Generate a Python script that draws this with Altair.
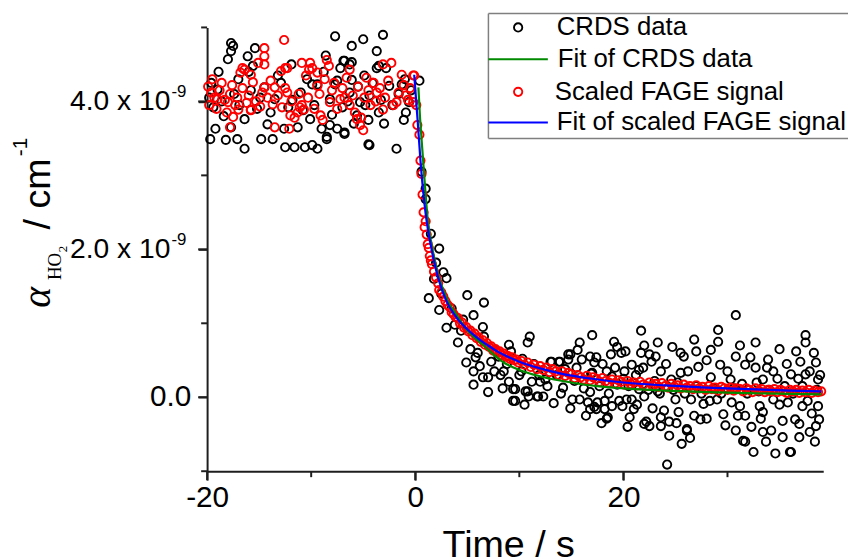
import altair as alt
import pandas as pd

# ---------------- data (time in s, alpha in units of 1e-9 cm^-1) ----------------
crds_pre = [
    (-17.7, 4.79), (-17.5, 4.75), (-17.7, 4.68), (-18.0, 4.57), (-15.4, 4.72), (-7.7, 4.88), (-5.0, 4.84), (-3.1, 4.90), (-6.1, 4.75), (-3.7, 4.68),
    (-6.8, 4.55), (-6.1, 4.53), (-3.7, 4.45), (-16.1, 4.61), (-19.7, 3.49), (-18.2, 3.48), (-17.1, 3.49), (-16.4, 3.36), (-14.8, 3.49), (-13.7, 3.49),
    (-12.5, 3.38), (-11.6, 3.38), (-10.6, 3.38), (-9.9, 3.41), (-9.4, 3.36), (-8.5, 3.49), (-6.8, 3.56), (-4.4, 3.41), (-1.8, 3.36), (-19.2, 3.63),
    (-17.7, 3.65), (-16.4, 3.76), (-14.2, 3.69), (-12.6, 3.63), (-11.3, 3.65), (-10.1, 3.76), (-9.0, 3.63), (-8.2, 3.68), (-7.5, 3.63), (-5.6, 3.81),
    (-4.5, 3.75), (-3.5, 3.85), (-0.9, 3.85), (-19.6, 4.25), (-19.0, 4.16), (-17.0, 4.30), (-15.8, 4.15), (-14.5, 4.19), (-13.5, 4.03), (-12.9, 4.25),
    (-11.0, 4.12), (-9.4, 4.23), (-8.2, 4.03), (-7.5, 4.28), (-6.3, 4.12), (-5.3, 3.99), (-4.4, 4.08), (-2.5, 4.21), (-1.3, 4.23), (-0.6, 3.99),
    (-19.8, 4.05), (-19.4, 3.92), (-18.6, 4.00), (-18.4, 3.80), (-17.4, 4.10), (-16.9, 3.95), (-16.0, 4.40), (-15.2, 3.90), (-14.9, 4.05), (-13.9, 3.85),
    (-13.2, 4.35), (-12.2, 3.92), (-11.8, 4.02), (-10.8, 3.88), (-10.4, 4.30), (-9.7, 3.95), (-8.8, 4.40), (-8.0, 3.82), (-7.2, 4.45), (-7.0, 3.92),
    (-6.5, 4.00), (-5.9, 3.70), (-5.5, 4.20), (-4.8, 3.95), (-4.1, 4.25), (-3.3, 4.02), (-3.0, 3.70), (-2.2, 3.95), (-1.6, 4.10), (-1.0, 4.30),
    (-0.4, 4.15), (-2.8, 4.45), (-4.9, 4.35), (-8.6, 4.62), (-11.9, 4.50), (-15.6, 4.48), (-18.9, 4.40), (-6.9, 4.55), (-6.3, 4.50), (-3.5, 4.48),
    (-6.1, 4.29), (-7.7, 4.23), (-9.9, 4.23), (-8.5, 3.52), (-6.8, 3.58), (-4.5, 3.42), (-1.1, 3.75),
]

crds_post = [
    (0.4, 4.28), (0.6, 3.05), (1.0, 2.82), (1.0, 2.68), (1.5, 2.21), (2.3, 2.01), (2.0, 1.82), (2.7, 1.69), (3.0, 1.61), (1.3, 1.34),
    (2.3, 1.18), (5.0, 1.38), (6.6, 1.28), (5.6, 1.11), (3.0, 0.94), (4.1, 0.74), (6.5, 0.95), (6.6, 0.82), (4.9, 0.47), (5.8, 0.54),
    (5.6, 0.35), (6.5, 0.27), (7.0, 0.27), (5.6, 0.17), (7.0, 0.07), (8.0, 0.55), (9.0, 0.71), (9.0, 0.21), (9.6, 0.11), (9.6, -0.05),
    (11.0, 0.82), (10.8, 0.74), (11.2, 0.21), (10.8, 0.08), (1.8, 1.60), (2.5, 1.40), (3.5, 1.20), (3.8, 0.98), (4.4, 0.90), (4.6, 1.05),
    (5.3, 0.65), (6.0, 0.60), (6.2, 0.42), (7.3, 0.48), (7.6, 0.35), (8.2, 0.30), (8.4, 0.12), (8.8, 0.45), (9.2, 0.62), (10.0, 0.30),
    (10.3, 0.52), (7.8, 0.62), (8.5, 0.35), (9.4, 0.11), (9.4, -0.05), (10.6, 0.08), (11.7, 0.01), (12.3, 0.01), (13.1, 0.48), (13.9, 0.48),
    (14.7, 0.58), (15.8, 0.74), (17.0, 0.84), (15.1, -0.03), (16.8, -0.16), (18.4, -0.29), (17.5, -0.07), (19.1, 0.75), (21.7, 0.90), (23.3, 0.74),
    (20.6, -0.27), (22.0, -0.36), (24.4, -0.52), (24.2, -0.91), (25.6, -0.63), (26.1, -0.45), (29.1, 0.91), (29.1, 0.75), (30.8, 1.11), (32.7, 0.74),
    (31.7, -0.60), (32.5, -0.74), (33.7, -0.60), (34.6, -0.76), (36.1, -0.74), (37.5, 0.84), (37.5, 0.74),
    (15.6, 0.64), (14.9, 0.58), (14.7, 0.51), (13.8, 0.48), (13.0, 0.48), (16.8, 0.55), (17.4, 0.54), (17.2, 0.47), (19.4, 0.68), (19.8, 0.60),
    (21.7, 0.60), (22.5, 0.58), (22.7, 0.48), (23.1, 0.55), (20.8, 0.44), (20.1, 0.35), (21.5, 0.37), (23.6, 0.35), (24.6, 0.24), (18.4, 0.35),
    (17.0, 0.33), (16.0, 0.51), (12.0, 0.21), (12.5, 0.24), (10.9, 0.01), (11.8, 0.01), (14.2, 0.13), (15.8, -0.03), (16.8, 0.07), (16.6, -0.07),
    (17.2, -0.13), (18.2, -0.05), (18.2, -0.16), (18.5, -0.27), (17.4, -0.16), (19.9, -0.12), (20.3, -0.03), (20.8, -0.03), (21.0, -0.16), (22.2, -0.33),
    (22.5, -0.39), (23.6, -0.27), (23.6, -0.39), (24.4, -0.33), (21.5, 0.11), (22.0, 0.01), (23.3, 0.08), (19.4, 0.17), (18.9, 0.28),
    (28.4, 0.64), (27.0, 0.62), (25.5, 0.60), (25.8, 0.55), (30.8, 0.55), (32.2, 0.54), (33.9, 0.51), (37.0, 0.48), (38.5, 0.47),
    (27.2, 0.41), (29.3, 0.44), (31.7, 0.44), (32.7, 0.40), (34.4, 0.35), (36.1, 0.31), (37.5, 0.31), (38.7, 0.24), (25.5, 0.33), (28.4, 0.27),
    (30.3, 0.24), (33.4, 0.24), (25.0, -0.03), (26.5, -0.03), (27.7, -0.09), (29.0, -0.03), (30.4, -0.07), (31.2, -0.12), (33.1, -0.12), (34.4, -0.03),
    (35.8, -0.07), (37.2, -0.12), (38.7, -0.12), (25.3, -0.20), (26.8, -0.25), (28.0, -0.29), (29.6, -0.23), (31.7, -0.25), (33.2, -0.29), (35.3, -0.32),
    (36.9, -0.36), (38.5, -0.39), (26.1, -0.43), (30.8, -0.45), (33.4, -0.47), (37.9, -0.47), (31.5, -0.59), (35.3, -0.54), (36.9, -0.54), (36.0, -0.74),
    (10.2, 0.35), (10.5, -0.10), (11.4, 0.45), (11.9, 0.30), (12.7, 0.15), (13.3, -0.08), (13.6, 0.30), (14.0, 0.05), (14.4, 0.38), (14.9, -0.15),
    (15.3, 0.22), (15.5, 0.40), (16.2, 0.12), (16.4, -0.25), (16.9, 0.32), (17.7, 0.15), (17.9, -0.35), (18.0, 0.45), (18.6, 0.05), (18.9, -0.12),
    (19.2, 0.40), (19.6, -0.05), (20.0, 0.25), (20.4, -0.40), (20.5, 0.15), (21.2, 0.30), (21.3, -0.10), (21.9, 0.40), (22.4, 0.10), (22.8, -0.15),
    (23.0, 0.22), (23.5, 0.05), (23.9, -0.18), (24.1, 0.45), (24.8, 0.10), (25.1, -0.35), (25.2, 0.20), (25.9, 0.05), (26.2, 0.35), (26.4, -0.55),
    (27.0, 0.15), (27.4, -0.30), (27.5, 0.05), (28.0, 0.50), (28.3, -0.05), (28.7, 0.12), (29.4, 0.05), (29.8, -0.38), (30.0, 0.35), (30.6, 0.12),
    (31.0, -0.25), (31.4, 0.18), (31.9, 0.05), (32.3, -0.40), (32.8, 0.20), (33.0, 0.08), (33.4, -0.20), (33.8, 0.40), (34.0, 0.10), (34.2, -0.45),
    (34.8, 0.25), (35.0, -0.10), (35.5, 0.15), (35.7, 0.45), (36.3, 0.05), (36.5, -0.30), (36.8, 0.25), (37.2, 0.15), (37.7, -0.05), (37.9, 0.35),
    (38.1, -0.22), (38.3, 0.60), (38.6, 0.10), (38.8, -0.30), (38.9, 0.30), (38.4, -0.60), (36.6, 0.62), (35.0, 0.65), (31.2, 0.70), (26.8, 0.78),
    (24.7, 0.68), (22.0, 0.70), (20.2, 0.62), (18.8, 0.58),
]

fage_pre = [
    (-12.6, 4.83), (-14.5, 4.72), (-14.5, 4.61), (-15.1, 4.52), (-16.4, 4.43), (-16.8, 4.39), (-15.8, 4.36), (-12.9, 4.41), (-12.3, 4.45), (-10.9, 4.52),
    (-10.1, 4.52), (-9.4, 4.39), (-8.5, 4.56), (-8.3, 4.48), (-6.3, 4.43), (-4.7, 4.32), (-3.1, 4.50), (-2.3, 4.52), (-1.3, 4.36), (-0.2, 4.35),
    (-19.6, 4.12), (-19.0, 4.03), (-18.0, 3.99), (-17.0, 3.89), (-15.8, 3.89), (-14.5, 4.19), (-13.5, 4.19), (-12.3, 4.12), (-12.0, 3.81), (-11.3, 3.85),
    (-10.7, 3.89), (-9.4, 4.21), (-9.1, 3.81), (-8.2, 3.99), (-7.2, 4.03), (-6.3, 3.95), (-5.6, 3.76), (-5.3, 3.68), (-5.0, 3.61), (-3.7, 4.12),
    (-3.1, 3.89), (-1.8, 3.99), (-0.9, 4.08), (-0.2, 3.99),
    (-19.9, 4.20), (-19.8, 3.95), (-19.5, 4.30), (-19.3, 4.05), (-19.1, 3.90), (-18.8, 4.15), (-18.6, 4.25), (-18.3, 4.02), (-18.1, 3.85), (-17.8, 4.10),
    (-17.6, 4.22), (-17.3, 3.95), (-17.1, 4.05), (-16.6, 4.18), (-16.2, 3.98), (-16.0, 4.08), (-15.6, 4.26), (-15.3, 4.00), (-14.9, 3.93), (-14.7, 4.12),
    (-14.2, 4.05), (-13.9, 4.28), (-13.7, 3.96), (-13.2, 4.08), (-12.8, 3.92), (-12.5, 4.18), (-11.9, 4.00), (-11.6, 3.78), (-11.2, 4.10), (-10.9, 3.95),
    (-10.5, 4.35), (-10.3, 4.05), (-9.9, 4.45), (-9.7, 3.90), (-9.2, 4.10), (-8.9, 3.75), (-8.7, 4.30), (-8.0, 4.15), (-7.8, 4.25), (-7.5, 3.90),
    (-7.0, 4.18), (-6.8, 4.05), (-6.6, 4.32), (-6.0, 4.08), (-5.8, 3.85), (-5.5, 4.20), (-5.2, 3.78), (-4.9, 4.05), (-4.5, 4.15), (-4.3, 3.95),
    (-4.0, 4.25), (-3.8, 4.00), (-3.4, 4.18), (-2.9, 4.05), (-2.6, 4.28), (-2.1, 3.95), (-1.6, 4.12), (-1.1, 4.22), (-0.7, 4.02), (-0.5, 4.18),
    (-14.5, 4.50), (-16.6, 4.45), (-10.2, 4.43), (-12.5, 4.45), (-13.5, 3.65), (-12.1, 3.63), (-17.8, 3.65), (-17.5, 3.79), (-15.8, 3.88), (-11.1, 3.92),
]

fage_post = [
    (-0.1, 4.35), (0.1, 3.95), (0.2, 3.68), (0.4, 3.55), (0.5, 3.20), (0.6, 3.02), (0.7, 2.74), (0.8, 2.50), (0.9, 2.30), (1.0, 2.38),
    (1.1, 2.20), (1.2, 2.07), (1.3, 2.02), (1.4, 1.91), (1.5, 1.85), (1.6, 1.80), (1.8, 1.70), (2.0, 1.62), (2.2, 1.54), (2.3, 1.45),
    (2.5, 1.42), (2.7, 1.36), (2.9, 1.30), (3.1, 1.25), (3.3, 1.22), (3.5, 1.15), (3.7, 1.12), (3.9, 1.08), (4.1, 1.07), (4.3, 1.00),
    (4.5, 1.01), (4.7, 0.94), (4.9, 0.95), (5.1, 0.89), (5.3, 0.90), (5.5, 0.84), (5.7, 0.86), (5.9, 0.80), (6.1, 0.81), (6.3, 0.75),
    (6.5, 0.77), (6.7, 0.71), (6.9, 0.73), (7.1, 0.68), (7.3, 0.69), (7.5, 0.63), (7.7, 0.65), (7.9, 0.60), (8.1, 0.62), (8.3, 0.57),
    (8.5, 0.59), (8.7, 0.55), (8.9, 0.56), (9.1, 0.52), (9.3, 0.54), (9.5, 0.50), (9.7, 0.51), (9.9, 0.47),
    (10.2, 0.49), (10.5, 0.44), (10.8, 0.47), (11.1, 0.41), (11.4, 0.44), (11.7, 0.38), (12.0, 0.42), (12.3, 0.37), (12.6, 0.40), (12.9, 0.34),
    (13.2, 0.38), (13.5, 0.35), (13.8, 0.30), (14.1, 0.35), (14.4, 0.29), (14.7, 0.33), (15.0, 0.31), (15.3, 0.26), (15.6, 0.30), (15.9, 0.27),
    (16.2, 0.24), (16.5, 0.29), (16.8, 0.23), (17.1, 0.27), (17.4, 0.25), (17.7, 0.21), (18.0, 0.26), (18.3, 0.22), (18.6, 0.20), (18.9, 0.24),
    (19.2, 0.19), (19.5, 0.23), (19.8, 0.21), (20.1, 0.17), (20.4, 0.22), (20.7, 0.18), (21.0, 0.20), (21.3, 0.16), (21.6, 0.21), (21.9, 0.17),
    (22.2, 0.15), (22.5, 0.20), (22.8, 0.16), (23.1, 0.18), (23.4, 0.14), (23.7, 0.19), (24.0, 0.15), (24.3, 0.13), (24.6, 0.18), (24.9, 0.14),
    (25.2, 0.16), (25.5, 0.12), (25.8, 0.17), (26.1, 0.13), (26.4, 0.15), (26.7, 0.11), (27.0, 0.16), (27.3, 0.12), (27.6, 0.14), (27.9, 0.10),
    (28.2, 0.15), (28.5, 0.11), (28.8, 0.13), (29.1, 0.09), (29.4, 0.14), (29.7, 0.12), (30.0, 0.10), (30.3, 0.13), (30.6, 0.09), (30.9, 0.12),
    (31.2, 0.11), (31.5, 0.08), (31.8, 0.12), (32.1, 0.10), (32.4, 0.07), (32.7, 0.12), (33.0, 0.09), (33.3, 0.11), (33.6, 0.07), (33.9, 0.10),
    (34.2, 0.08), (34.5, 0.11), (34.8, 0.07), (35.1, 0.10), (35.4, 0.08), (35.7, 0.06), (36.0, 0.10), (36.3, 0.08), (36.6, 0.10), (36.9, 0.06),
    (37.2, 0.09), (37.5, 0.07), (37.8, 0.10), (38.1, 0.06), (38.4, 0.09), (38.7, 0.07), (39.0, 0.08),
]

fit_crds_t = [0.3, 0.45, 0.6, 0.9, 1.2, 1.5, 1.8, 2.2, 2.7, 3.2, 3.9, 4.5, 5.5, 6.5, 7.5, 8.5, 9.5, 11, 13, 15, 17.5, 20, 24, 28, 32, 36, 39]
fit_crds_a = [4.19, 3.80, 3.50, 2.92, 2.40, 2.12, 1.90, 1.65, 1.45, 1.28, 1.13, 1.00, 0.83, 0.71, 0.58, 0.47, 0.40, 0.32, 0.25, 0.20, 0.15, 0.12, 0.09, 0.07, 0.055, 0.045, 0.04]

fit_fage_t = [-0.1, 0.25, 0.5, 0.75, 1.0, 1.5, 2.0, 2.5, 3.0, 4.0, 5.0, 6.0, 7.0, 8.0, 9.0, 10, 12, 14, 17, 20, 24, 28, 32, 36, 39]
fit_fage_a = [4.36, 3.70, 3.20, 2.80, 2.48, 2.05, 1.72, 1.48, 1.30, 1.07, 0.92, 0.80, 0.70, 0.61, 0.54, 0.48, 0.39, 0.32, 0.25, 0.20, 0.16, 0.13, 0.11, 0.09, 0.08]

x_domain = [-20, 39.2]
y_domain = [-1, 5]
x_major_ticks = [-20, 0, 20]
x_minor_ticks = [-10, 10, 30]
y_major_ticks = [0, 2, 4]
y_minor_ticks = [-1, 1, 3, 5]
y_zero_label = ["0.0"]
y_exp_values = [2, 4]
y_exp_texts = ["2.0 x 10", "4.0 x 10"]
legend_labels = ["CRDS data", "Fit of CRDS data", "Scaled FAGE signal", "Fit of scaled FAGE signal"]

# ---------------- styling ----------------
FONT = "Liberation Sans"
SERIF = "Liberation Serif"
AX = "#1e1e1e"
GREEN = "#008a00"
BLUE = "#0000ff"
RED = "#ff0000"
PT_SIZE = 70
PT_STROKE = 1.9

crds_df = pd.DataFrame(crds_pre + crds_post, columns=["t", "a"])
fage_df = pd.DataFrame(fage_pre + fage_post, columns=["t", "a"])
fitc_df = pd.DataFrame({"t": fit_crds_t, "a": fit_crds_a})
fitf_df = pd.DataFrame({"t": fit_fage_t, "a": fit_fage_a})
ylab0_df = pd.DataFrame({"a": [0], "txt": y_zero_label})
ylab_df = pd.DataFrame({"a": y_exp_values, "txt": y_exp_texts})
xmajor_df = pd.DataFrame({"t": x_major_ticks})
xminor_df = pd.DataFrame({"t": x_minor_ticks})
ymajor_df = pd.DataFrame({"a": y_major_ticks})
yminor_df = pd.DataFrame({"a": y_minor_ticks})
one = pd.DataFrame({"k": [0]})

xs = alt.Scale(domain=x_domain, nice=False, zero=False)
ys = alt.Scale(domain=y_domain, nice=False, zero=False)

x_axis = alt.Axis(
    values=x_major_ticks, title="Time / s", grid=False,
    domainColor=AX, domainWidth=2, tickColor=AX, tickWidth=2, tickSize=9,
    labelExpr="'' + datum.value",
    labelFont=FONT, labelFontSize=30, labelColor="black", labelPadding=3,
    labelFlush=False, labelOverlap=False,
    titleFont=FONT, titleFontSize=38, titleFontWeight="normal", titleColor="black",
    titleBaseline="alphabetic", titleY=86, titleX=304, titleAlign="center",
)
y_axis = alt.Axis(
    values=y_major_ticks, title=None, labels=False, grid=False,
    domainColor=AX, domainWidth=2, tickColor=AX, tickWidth=2, tickSize=9,
)

x_enc = alt.X("t:Q", scale=xs, axis=x_axis)
y_enc = alt.Y("a:Q", scale=ys, axis=y_axis)

crds_pts = alt.Chart(crds_df).mark_point(
    shape="circle", filled=False, size=PT_SIZE, strokeWidth=PT_STROKE, color="black", opacity=1
).encode(x=x_enc, y=y_enc)
fage_pts = alt.Chart(fage_df).mark_point(
    shape="circle", filled=False, size=PT_SIZE, strokeWidth=PT_STROKE, color=RED, opacity=1
).encode(x=x_enc, y=y_enc)
fit_c = alt.Chart(fitc_df).mark_line(color=GREEN, strokeWidth=2.2, interpolate="monotone").encode(x=x_enc, y=y_enc)
fit_f = alt.Chart(fitf_df).mark_line(color=BLUE, strokeWidth=2.2, interpolate="monotone").encode(x=x_enc, y=y_enc)

# explicit tick marks (major and minor)
xmajor = alt.Chart(xmajor_df).mark_rule(color=AX, strokeWidth=2).encode(
    x=x_enc, y=alt.value(448), y2=alt.value(457))
xminor = alt.Chart(xminor_df).mark_rule(color=AX, strokeWidth=2).encode(
    x=x_enc, y=alt.value(448), y2=alt.value(454))
ymajor = alt.Chart(ymajor_df).mark_rule(color=AX, strokeWidth=2).encode(
    y=y_enc, x=alt.value(-9), x2=alt.value(0))
yminor = alt.Chart(yminor_df).mark_rule(color=AX, strokeWidth=2).encode(
    y=y_enc, x=alt.value(-6), x2=alt.value(0))

# y tick labels with superscript exponent
ylab0 = alt.Chart(ylab0_df).mark_text(
    align="right", baseline="middle", font=FONT, fontSize=30, color="black"
).encode(x=alt.value(-16), y=y_enc, text="txt:N")
ylab = alt.Chart(ylab_df).mark_text(
    align="right", baseline="middle", font=FONT, fontSize=28.5, color="black"
).encode(x=alt.value(-37), y=y_enc, text="txt:N")
yexp = alt.Chart(ylab_df).mark_text(
    align="left", baseline="alphabetic", dy=-4, font=FONT, fontSize=17, color="black", text="-9"
).encode(x=alt.value(-36), y=y_enc)


def txt(s, x, y, size, font=FONT, angle=0, align="left", baseline="middle", style="normal"):
    kw = dict(text=s, fontSize=size, font=font, align=align, baseline=baseline,
              color="black", fontStyle=style)
    if angle:
        kw["angle"] = angle
    return alt.Chart(one).mark_text(**kw).encode(x=alt.value(x), y=alt.value(y))


def hrule(x1, x2, y, color, width):
    return alt.Chart(one).mark_rule(color=color, strokeWidth=width).encode(
        x=alt.value(x1), x2=alt.value(x2), y=alt.value(y))


# y-axis title: alpha_{HO2} / cm^-1 (rotated)
ytitle = [
    txt("α", -159, 283, 40, SERIF, 270, "left", "alphabetic", "italic"),
    txt("HO", -148, 255, 19, SERIF, 270, "left", "alphabetic"),
    txt("2", -141, 227, 13, SERIF, 270, "left", "alphabetic"),
    txt("/ cm", -159, 204, 38, FONT, 270, "left", "alphabetic"),
    txt("-1", -182, 130, 21, FONT, 270, "left", "alphabetic"),
]

# legend box
LG = "#7f7f7f"
legend = [
    hrule(-48, 647, -23, "#9a9a9a", 1.5),
    hrule(284, 647, -14, LG, 1.5),
    hrule(284, 647, 112, LG, 1.5),
    alt.Chart(one).mark_rule(color=LG, strokeWidth=1.5).encode(
        x=alt.value(284), y=alt.value(-14), y2=alt.value(112)),
    alt.Chart(one).mark_point(shape="circle", filled=False, size=PT_SIZE, strokeWidth=PT_STROKE,
                              color="black", opacity=1).encode(x=alt.value(314), y=alt.value(0)),
    hrule(284, 344, 32, GREEN, 2),
    alt.Chart(one).mark_point(shape="circle", filled=False, size=PT_SIZE, strokeWidth=PT_STROKE,
                              color=RED, opacity=1).encode(x=alt.value(314), y=alt.value(65)),
    hrule(284, 344, 96, BLUE, 2),
    txt(legend_labels[0], 353, 0, 26),
    txt(legend_labels[1], 354, 32, 26),
    txt(legend_labels[2], 351, 65, 26),
    txt(legend_labels[3], 353, 96, 26),
]

chart = alt.layer(
    crds_pts, fage_pts, fit_c, fit_f, xmajor, xminor, ymajor, yminor,
    ylab0, ylab, yexp, *ytitle, *legend
).properties(
    width=622, height=448,
    autosize=alt.AutoSizeParams(type="none"),
    padding={"left": 201, "top": 17, "right": 25, "bottom": 87},
).configure_view(stroke=None)

chart.save("out.html", embed_options={"renderer": "svg", "actions": False})
